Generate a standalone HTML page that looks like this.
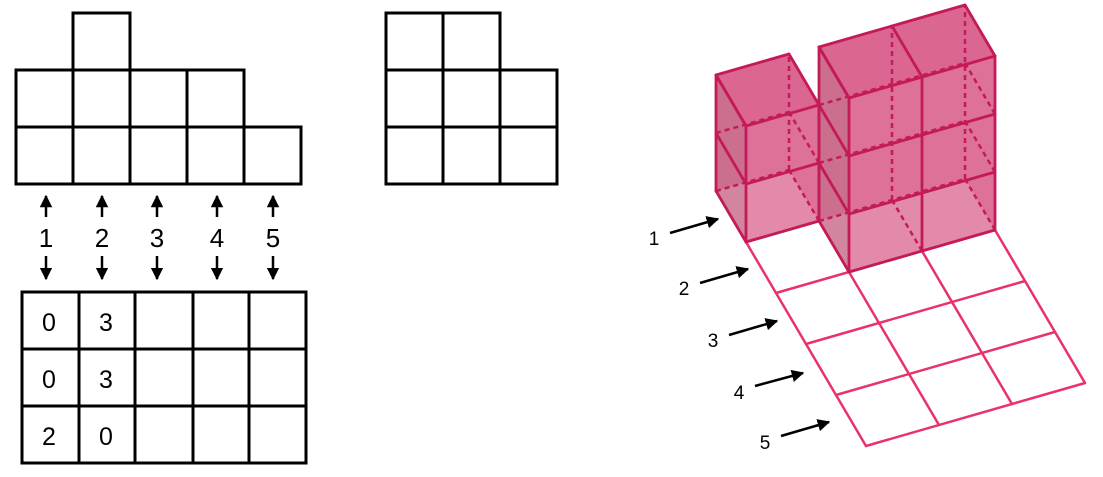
<!DOCTYPE html>
<html><head><meta charset="utf-8"><style>
html,body{margin:0;padding:0;background:#fff;}
svg{display:block}
text{font-family:"Liberation Sans","DejaVu Sans",sans-serif;}
</style></head><body>
<svg id="s" width="1103" height="477" viewBox="0 0 1103 477" xmlns="http://www.w3.org/2000/svg">
<defs>
<marker id="ah" viewBox="0 0 10 10" refX="9" refY="5" markerWidth="5" markerHeight="5" orient="auto"><path d="M0,0L10,5L0,10z" fill="#000"/></marker>
</defs>
<g stroke="#000" stroke-width="3" fill="none">
<rect x="73" y="13" width="57" height="57"/>
<rect x="16" y="70" width="57" height="57"/><rect x="73" y="70" width="57" height="57"/><rect x="130" y="70" width="57" height="57"/><rect x="187" y="70" width="57" height="57"/>
<rect x="16" y="127" width="57" height="57"/><rect x="73" y="127" width="57" height="57"/><rect x="130" y="127" width="57" height="57"/><rect x="187" y="127" width="57" height="57"/><rect x="244" y="127" width="57" height="57"/>
<rect x="386" y="13" width="57" height="57"/><rect x="443" y="13" width="57" height="57"/>
<rect x="386" y="70" width="57" height="57"/><rect x="443" y="70" width="57" height="57"/><rect x="500" y="70" width="57" height="57"/>
<rect x="386" y="127" width="57" height="57"/><rect x="443" y="127" width="57" height="57"/><rect x="500" y="127" width="57" height="57"/>
<rect x="22" y="292" width="284" height="171"/>
<line x1="79" y1="292" x2="79" y2="463"/><line x1="135" y1="292" x2="135" y2="463"/><line x1="193" y1="292" x2="193" y2="463"/><line x1="249" y1="292" x2="249" y2="463"/>
<line x1="22" y1="349" x2="306" y2="349"/><line x1="22" y1="406" x2="306" y2="406"/>
</g>
<g fill="#000" font-size="25" text-anchor="middle">
<text x="49" y="331">0</text><text x="106" y="331">3</text>
<text x="49" y="388">0</text><text x="106" y="388">3</text>
<text x="49" y="445">2</text><text x="106" y="445">0</text>
</g>
<g id="arr" stroke="#000" stroke-width="2.5"></g>
<g fill="#000" font-size="26" text-anchor="middle">
<text x="46" y="247">1</text><text x="102" y="247">2</text><text x="157" y="247">3</text><text x="217" y="247">4</text><text x="273" y="247">5</text>
</g>
<g id="floor" stroke="#e8336a" stroke-width="2.5" stroke-linecap="round"></g>
<g id="cubes"></g>
<g id="rarr" stroke="#000" stroke-width="2.5"></g>
<g fill="#000" font-size="19" text-anchor="middle">
<text x="654" y="245">1</text><text x="684" y="295">2</text><text x="713" y="347">3</text><text x="739" y="399">4</text><text x="765" y="449">5</text>
</g>
</svg>
<script>
var NS="http://www.w3.org/2000/svg";
function el(p,t,a){var e=document.createElementNS(NS,t);for(var k in a)e.setAttribute(k,a[k]);p.appendChild(e);return e;}
var arr=document.getElementById('arr');
[46,102,157,217,273].forEach(function(x){
 el(arr,'line',{x1:x,y1:217,x2:x,y2:196,'marker-end':'url(#ah)'});
 el(arr,'line',{x1:x,y1:256,x2:x,y2:279,'marker-end':'url(#ah)'});
});
var ra=document.getElementById('rarr');
[[670,233,718,219],[700,283,748,269],[729,335,777,321],[755,386,803,373],[781,436,829,422]].forEach(function(a){
 el(ra,'line',{x1:a[0],y1:a[1],x2:a[2],y2:a[3],'marker-end':'url(#ah)'});
});
function P(x,y,z){z=z||0;return [716+73*x+30*y,191-21*x+51*y-58*z];}
function L(g,a,b,attrs){var o={x1:a[0],y1:a[1],x2:b[0],y2:b[1]};for(var k in attrs)o[k]=attrs[k];el(g,'line',o);}
var fl=document.getElementById('floor');
L(fl,P(0,1),P(0,5));
[1,2,3].forEach(function(x){L(fl,P(x,2),P(x,5));});
L(fl,P(0,1),P(1,1));
[2,3,4,5].forEach(function(y){L(fl,P(0,y),P(3,y));});
var cg=document.getElementById('cubes');
function poly(pts,fill,op){el(cg,'polygon',{points:pts.map(function(p){return p.join(',')}).join(' '),fill:fill,'fill-opacity':op,stroke:'none'});}
function box(x0,x1,y0,y1,z0,z1){
 var c='#c8185a',op=0.4;
 poly([P(x0,y0,z0),P(x1,y0,z0),P(x1,y0,z1),P(x0,y0,z1)],c,op);
 poly([P(x1,y0,z0),P(x1,y1,z0),P(x1,y1,z1),P(x1,y0,z1)],c,op);
 poly([P(x0,y0,z0),P(x1,y0,z0),P(x1,y1,z0),P(x0,y1,z0)],c,op*0.6);
 poly([P(x0,y1,z0),P(x1,y1,z0),P(x1,y1,z1),P(x0,y1,z1)],c,op*0.9);
 poly([P(x0,y0,z0),P(x0,y1,z0),P(x0,y1,z1),P(x0,y0,z1)],'#a0204a',op);
 poly([P(x0,y0,z1),P(x1,y0,z1),P(x1,y1,z1),P(x0,y1,z1)],c,op*1.1);
 var d={stroke:'#c41a58','stroke-width':2.5,'stroke-dasharray':'5,4'};
 var s={stroke:'#c41a58','stroke-width':2.8,'stroke-linecap':'round'};
 var x,z;
 for(z=z0;z<z1;z++){L(cg,P(x0,y0,z),P(x1,y0,z),d);L(cg,P(x1,y0,z),P(x1,y1,z),d);}
 for(x=x0+1;x<=x1;x++){L(cg,P(x,y0,z0),P(x,y0,z1),d);}
 for(x=x0+1;x<x1;x++){L(cg,P(x,y0,z0),P(x,y1,z0),d);}
 for(z=z0;z<=z1;z++){L(cg,P(x0,y1,z),P(x1,y1,z),s);L(cg,P(x0,y0,z),P(x0,y1,z),s);}
 for(x=x0;x<=x1;x++){L(cg,P(x,y1,z0),P(x,y1,z1),s);L(cg,P(x,y0,z1),P(x,y1,z1),s);}
 L(cg,P(x0,y0,z0),P(x0,y0,z1),s);
 L(cg,P(x0,y0,z1),P(x1,y0,z1),s);
}
box(0,1,0,1,0,2);
box(1,3,1,2,0,3);
</script>
</body></html>
